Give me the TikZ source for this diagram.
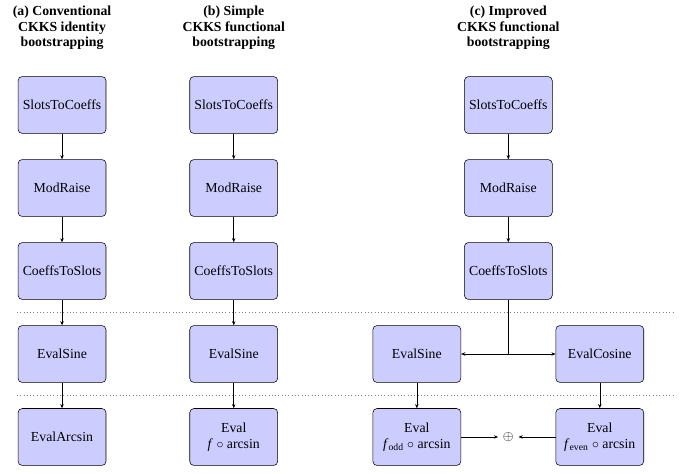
\documentclass[tikz,border=0pt]{standalone}
\usepackage{fontspec}
\setmainfont{Liberation Serif}
\usetikzlibrary{arrows.meta, positioning, calc}

\begin{document}
\begin{tikzpicture}[
        box/.style={rectangle, draw, rounded corners=3pt, fill=blue!20, minimum width=2.24cm, minimum height=1.45cm, align=center, font=\fontsize{10}{12}\selectfont},
        title/.style={align=center, font=\bfseries\fontsize{10}{11.2}\selectfont},
        sep/.style={gray, dotted},
        >={Stealth[length=3pt, width=2.5pt]}
    ]
        \useasboundingbox (-1.58,-9.376) rectangle (15.92,2.675);
        \node[box] (stc1) at (0,0) {SlotsToCoeffs};
        \node[box, below=0.65cm of stc1] (mr1) {ModRaise};
        \node[box, below=0.65cm of mr1] (cts1) {CoeffsToSlots};
        \node[box, below=0.65cm of cts1] (sine1) {EvalSine};
        \node[box, below=0.65cm of sine1] (asin1) {EvalArcsin};
        \node[box, right=2.12cm of stc1] (stc2) {SlotsToCoeffs};
        \node[box, below=0.65cm of stc2] (mr2) {ModRaise};
        \node[box, below=0.65cm of mr2] (cts2) {CoeffsToSlots};
        \node[box, below=0.65cm of cts2] (sine2) {EvalSine};
        \node[box, below=0.65cm of sine2] (f2) {Eval\\\textit{f} $\circ$ arcsin};
        \node[box, right=4.74cm of stc2] (stc3) {SlotsToCoeffs};
        \node[box, below=0.65cm of stc3] (mr3) {ModRaise};
        \node[box, below=0.65cm of mr3] (cts3) {CoeffsToSlots};
        \node[box, below=0.65cm of cts3, xshift=-2.33cm] (sine3) {EvalSine};
        \node[box, below=0.65cm of cts3, xshift=2.33cm] (cos3) {EvalCosine};
        \node[box, below=0.65cm of sine3] (odd3) {Eval\\\textit{f}\textsubscript{odd} $\circ$ arcsin};
        \node[box, below=0.65cm of cos3] (even3) {Eval\\\textit{f}\textsubscript{even} $\circ$ arcsin};
        \node (plus) at (stc3 |- odd3) {$\oplus$};
        \coordinate (split) at (stc3 |- sine3);
        \node[title, above=0.55cm of stc1] (ta) {(a) Conventional\\CKKS identity\\bootstrapping};
        \node[title, above=0.55cm of stc2] (tb) {(b) Simple\\CKKS functional\\bootstrapping};
        \node[title, above=0.55cm of stc3] (tc) {(c) Improved\\CKKS functional\\bootstrapping};
        \coordinate (l1) at ($(cts1.south)!0.5!(sine1.north)$);
        \coordinate (l2) at ($(sine1.south)!0.5!(asin1.north)$);
        \draw[sep] ([xshift=-1.15cm]l1) -- ([xshift=0.75cm]cos3.east |- l1);
        \draw[sep] ([xshift=-1.15cm]l2) -- ([xshift=0.75cm]cos3.east |- l2);
        \draw[->] (stc1) -- (mr1);
        \draw[->] (mr1) -- (cts1);
        \draw[->] (cts1) -- (sine1);
        \draw[->] (sine1) -- (asin1);
        \draw[->] (stc2) -- (mr2);
        \draw[->] (mr2) -- (cts2);
        \draw[->] (cts2) -- (sine2);
        \draw[->] (sine2) -- (f2);
        \draw[->] (stc3) -- (mr3);
        \draw[->] (mr3) -- (cts3);
        \draw (cts3) -- (split);
        \draw[->] (split) -- (sine3);
        \draw[->] (split) -- (cos3);
        \draw[->] (sine3) -- (odd3);
        \draw[->] (cos3) -- (even3);
        \draw[->] (odd3) -- (plus);
        \draw[->] (even3) -- (plus);
    \end{tikzpicture}
\end{document}
